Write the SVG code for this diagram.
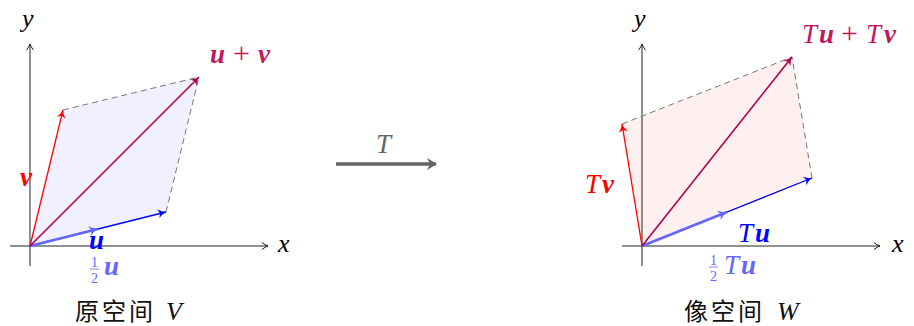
<svg xmlns="http://www.w3.org/2000/svg" width="914" height="326" viewBox="0 0 914 326">
<style>
.ax{stroke:#222;stroke-width:1;fill:none}
.dash{stroke:#777;stroke-width:1;stroke-dasharray:6,4;fill:none}
.m{font-family:"Liberation Serif",serif;font-style:italic}
.b{font-weight:bold}
.n{font-family:"Liberation Serif",serif;font-style:normal;font-weight:normal}
.cap{font-family:"Noto Sans CJK SC",sans-serif;font-size:24px;fill:#111;letter-spacing:3px}
</style>
<defs>
<marker id="ak" markerWidth="10" markerHeight="10" refX="8" refY="5" orient="auto" markerUnits="userSpaceOnUse"><path d="M2,1.5 Q5,4 8,5 Q5,6 2,8.5" fill="none" stroke="#222" stroke-width="1"/></marker>
<marker id="ab" markerWidth="12" markerHeight="12" refX="9" refY="6" orient="auto" markerUnits="userSpaceOnUse"><path d="M1,1.5 Q5,5 9,6 Q5,7 1,10.5 L3,6 Z" fill="#0000ff"/></marker>
<marker id="al" markerWidth="14" markerHeight="14" refX="10" refY="7" orient="auto" markerUnits="userSpaceOnUse"><path d="M1,2 Q6,6 10,7 Q6,8 1,12 L3.5,7 Z" fill="#6666ff"/></marker>
<marker id="ar" markerWidth="12" markerHeight="12" refX="9" refY="6" orient="auto" markerUnits="userSpaceOnUse"><path d="M1,1.5 Q5,5 9,6 Q5,7 1,10.5 L3,6 Z" fill="#ff0000"/></marker>
<marker id="ap" markerWidth="12" markerHeight="12" refX="9" refY="6" orient="auto" markerUnits="userSpaceOnUse"><path d="M1,1.5 Q5,5 9,6 Q5,7 1,10.5 L3,6 Z" fill="#b0004a"/></marker>
<marker id="ag" markerWidth="14" markerHeight="14" refX="9" refY="7" orient="auto" markerUnits="userSpaceOnUse"><path d="M0,1 L10,7 L0,13 L3,7 Z" fill="#666"/></marker>
</defs>

<g id="left-panel">
<polygon points="30,246 166,212 199,77 63,110" fill="#f0f0ff"/>
<g id="left-axes">
<line class="ax" x1="10" y1="246" x2="268" y2="246" marker-end="url(#ak)"/>
<line class="ax" x1="30" y1="266" x2="30" y2="44" marker-end="url(#ak)"/>
<text class="m" x="278" y="252" font-size="26">x</text>
<text class="m" x="22" y="27" font-size="26">y</text>
</g>
</g>

<g id="right-panel">
<polygon points="642,246 812,178 792,57 622,124" fill="#fff0f0"/>
<g id="right-axes">
<line class="ax" x1="622" y1="246" x2="880" y2="246" marker-end="url(#ak)"/>
<line class="ax" x1="642" y1="266" x2="642" y2="44" marker-end="url(#ak)"/>
<text class="m" x="892" y="252" font-size="26">x</text>
<text class="m" x="634" y="27" font-size="26">y</text>
</g>
</g>

<g id="connectors">
<line class="dash" x1="63" y1="110" x2="199" y2="77"/>
<line class="dash" x1="166" y1="212" x2="199" y2="77"/>
<line x1="30" y1="246" x2="63" y2="110" stroke="#ff0000" stroke-width="1.3" marker-end="url(#ar)"/>
<line x1="30" y1="246" x2="166" y2="212" stroke="#0000ff" stroke-width="1.3" marker-end="url(#ab)"/>
<line x1="30" y1="246" x2="98" y2="229" stroke="#6666ff" stroke-width="2.8" marker-end="url(#al)"/>
<line x1="30" y1="246" x2="199" y2="77" stroke="#b0004a" stroke-width="1.6" marker-end="url(#ap)"/>

<line class="dash" x1="622" y1="124" x2="792" y2="57"/>
<line class="dash" x1="812" y1="178" x2="792" y2="57"/>
<line x1="642" y1="246" x2="622" y2="124" stroke="#ff0000" stroke-width="1.3" marker-end="url(#ar)"/>
<line x1="642" y1="246" x2="812" y2="178" stroke="#0000ff" stroke-width="1.3" marker-end="url(#ab)"/>
<line x1="642" y1="246" x2="727" y2="212" stroke="#6666ff" stroke-width="2.8" marker-end="url(#al)"/>
<line x1="642" y1="246" x2="792" y2="57" stroke="#b0004a" stroke-width="1.6" marker-end="url(#ap)"/>

<g id="map-arrow">
<line x1="336" y1="164" x2="436" y2="164" stroke="#666" stroke-width="3.5" marker-end="url(#ag)"/>
<text class="m" x="376" y="153" font-size="27" fill="#666">T</text>
</g>
</g>

<g id="labels">
<text class="m b" font-size="27" fill="#c0185e" y="63"><tspan x="210">u</tspan><tspan class="n" x="233" font-size="30">+</tspan><tspan x="258">v</tspan></text>
<text class="m b" x="20" y="186" font-size="27" fill="#ff0000">v</text>
<text class="m b" x="89" y="249" font-size="27" fill="#0000ff">u</text>
<text class="n" x="91" y="267" font-size="14" fill="#6666ff">1</text>
<line x1="90" y1="269" x2="99" y2="269" stroke="#6666ff" stroke-width="0.8"/>
<text class="n" x="91" y="283" font-size="14" fill="#6666ff">2</text>
<text class="m b" x="104" y="275" font-size="27" fill="#6666ff">u</text>

<text class="m" font-size="27" fill="#c0185e" y="43"><tspan x="802">T</tspan><tspan class="b" x="819">u</tspan><tspan class="n" x="841" font-size="30">+</tspan><tspan x="866">T</tspan><tspan class="b" x="884">v</tspan></text>
<text class="m" font-size="27" fill="#ff0000" y="193"><tspan x="585">T</tspan><tspan class="b" x="602">v</tspan></text>
<text class="m" font-size="27" fill="#0000ff" y="242"><tspan x="738">T</tspan><tspan class="b" x="755">u</tspan></text>
<text class="n" x="710" y="265" font-size="14" fill="#6666ff">1</text>
<line x1="709" y1="267" x2="718" y2="267" stroke="#6666ff" stroke-width="0.8"/>
<text class="n" x="710" y="281" font-size="14" fill="#6666ff">2</text>
<text class="m" font-size="27" fill="#6666ff" y="274"><tspan x="724">T</tspan><tspan class="b" x="741">u</tspan></text>
</g>

<g id="captions">
<text class="cap" x="75" y="320">原空间</text>
<text class="m" x="166" y="320" font-size="26" fill="#111">V</text>
<text class="cap" x="684" y="320">像空间</text>
<text class="m" x="777" y="320" font-size="26" fill="#111">W</text>
</g>
</svg>
